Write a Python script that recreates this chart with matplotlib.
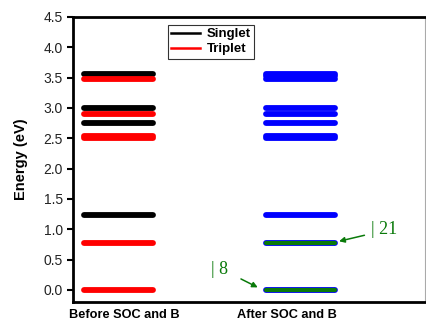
import matplotlib
matplotlib.use("Agg")
import matplotlib.pyplot as plt
from matplotlib.lines import Line2D

# Energy levels (eV)
singlet_before = [3.56, 2.99, 2.75, 1.23]
triplet_before = [3.47, 2.90, 2.54, 2.50, 0.77, 0.0]
after_soc = [3.56, 3.52, 3.47, 2.99, 2.90, 2.75, 2.54, 2.50, 1.23, 0.77, 0.0]
highlighted = [0.77, 0.0]
state_labels = ["| 21", "| 8"]
column_labels = ["Before SOC and B", "After SOC and B"]
yticks = [0.0, 0.5, 1.0, 1.5, 2.0, 2.5, 3.0, 3.5, 4.0, 4.5]

plt.rcParams["font.family"] = ["Liberation Sans", "DejaVu Sans"]

fig = plt.figure(figsize=(4.26, 3.24), dpi=100)
ax = fig.add_axes([0.171, 0.068, 0.827, 0.880])

hw = 0.19
lw = 4.2
for e in singlet_before:
    ax.plot([1 - hw, 1 + hw], [e, e], color="black", lw=lw, solid_capstyle="round")
for e in triplet_before:
    ax.plot([1 - hw, 1 + hw], [e, e], color="red", lw=lw, solid_capstyle="round")
for e in after_soc:
    ax.plot([2 - hw, 2 + hw], [e, e], color="blue", lw=lw, solid_capstyle="round")
for e in highlighted:
    ax.plot([2 - hw, 2 + hw], [e, e], color="#0a7a0a", lw=lw - 1.2, solid_capstyle="round")

# State annotations
green = "#0a7a0a"
ax.annotate("", xy=(2 + hw + 0.01, highlighted[0] + 0.02), xytext=(2.37, 0.91),
            arrowprops=dict(arrowstyle="-|>", color=green, lw=1.1, mutation_scale=8))
ax.text(2.39, 0.99, state_labels[0], color=green, fontsize=13,
        family="Liberation Serif", va="center", ha="left")
ax.annotate("", xy=(1.78, highlighted[1] + 0.02), xytext=(1.66, 0.2),
            arrowprops=dict(arrowstyle="-|>", color=green, lw=1.1, mutation_scale=8))
ax.text(1.51, 0.33, state_labels[1], color=green, fontsize=13,
        family="Liberation Serif", va="center", ha="left")

ax.set_xlim(0.746, 2.69)
ax.set_ylim(-0.2, 4.5)
ax.set_yticks(yticks)
ax.set_yticklabels([f"{v:.1f}" for v in yticks], fontsize=10, color="#222222")
ax.set_xticks([1.03, 1.93])
ax.set_xticklabels(column_labels, fontsize=9.2, fontweight="bold")
ax.tick_params(axis="x", length=0, pad=5)
ax.tick_params(axis="y", direction="out", length=4, width=1.5, pad=3)
ax.set_ylabel("Energy (eV)", fontsize=10.5, fontweight="bold", labelpad=11)

for side in ["left", "bottom", "top"]:
    ax.spines[side].set_linewidth(2)
    ax.spines[side].set_color("black")
ax.spines["right"].set_linewidth(0.8)
ax.spines["right"].set_color("#aaaaaa")

handles = [Line2D([0], [0], color="black", lw=1.8),
           Line2D([0], [0], color="red", lw=1.8)]
leg = ax.legend(handles, ["Singlet", "Triplet"], loc="upper left",
                bbox_to_anchor=(0.25, 0.995), frameon=True, fancybox=False,
                edgecolor="black", prop=dict(weight="bold", size=9.5),
                handlelength=2.2, borderpad=0.25, labelspacing=0.2,
                handletextpad=0.5)
leg.get_frame().set_linewidth(0.8)

fig.savefig("out.png", dpi=100)
